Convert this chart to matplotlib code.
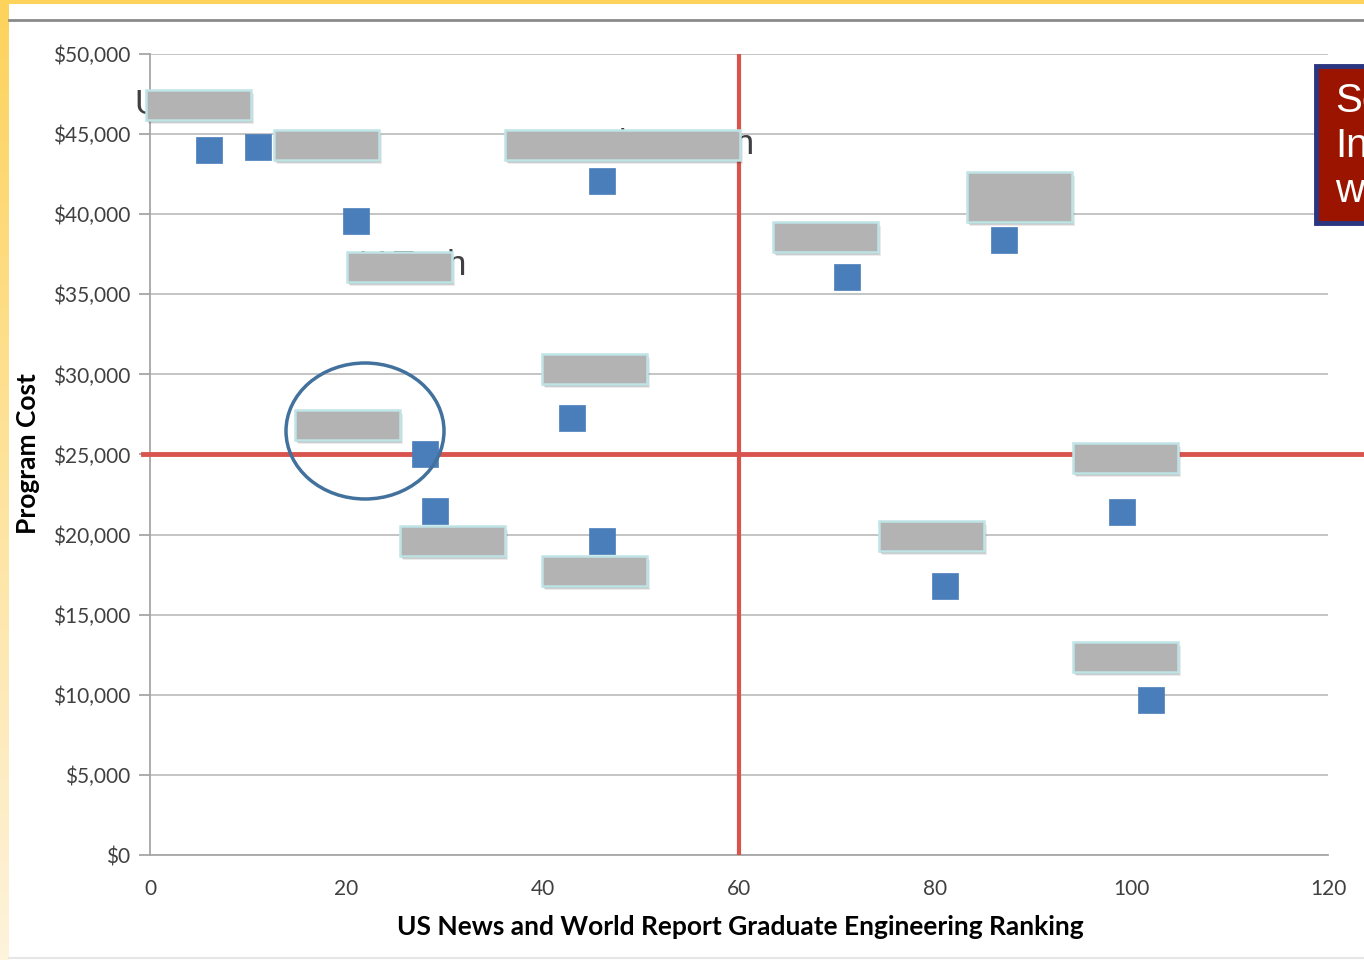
import matplotlib
matplotlib.use("Agg")
import matplotlib.pyplot as plt
import numpy as np
from matplotlib.patches import Rectangle, Ellipse
from matplotlib.colors import LinearSegmentedColormap

# ---- data ----
ranking = [6, 11, 21, 46, 71, 87, 43, 28, 29, 46, 81, 99, 102]
cost = [44000, 44200, 39600, 42100, 36100, 38400, 27300, 25000, 21500, 19600, 16800, 21400, 9700]
x_ticks = [0, 20, 40, 60, 80, 100, 120]
y_ticks = [0, 5000, 10000, 15000, 20000, 25000, 30000, 35000, 40000, 45000, 50000]
y_tick_labels = ["$0", "$5,000", "$10,000", "$15,000", "$20,000", "$25,000",
                 "$30,000", "$35,000", "$40,000", "$45,000", "$50,000"]
rank_cut = 60
cost_cut = 25000
x_title = "US News and World Report Graduate Engineering Ranking"
y_title = "Program Cost"
callout_lines = ["Se", "In", "w"]

W, H = 1364, 960
fig = plt.figure(figsize=(W / 100, H / 100), dpi=100)
fig.patch.set_facecolor("white")

def fx(px):
    return px / W

def fy(py):
    return 1 - py / H

# background frame: yellow gradient strips
grad = np.linspace(0, 1, 256).reshape(-1, 1)
ycmap = LinearSegmentedColormap.from_list("y", ["#fdd35c", "#fef3dc"])
axbg = fig.add_axes([0, 0, fx(9), 1], zorder=0)
axbg.imshow(grad, aspect="auto", cmap=ycmap, extent=[0, 1, 0, 1], origin="upper")
axbg.axis("off")
fig.add_artist(Rectangle((0, fy(4)), 1, fy(0) - fy(4), transform=fig.transFigure,
                         facecolor="#fdd35c", edgecolor="none", zorder=1))
fig.add_artist(plt.Line2D([fx(9), 1], [fy(20), fy(20)], transform=fig.transFigure,
                          color="#8a8a8a", lw=2, zorder=1))
fig.add_artist(plt.Line2D([fx(9), 1], [fy(958), fy(958)], transform=fig.transFigure,
                          color="#e6e6e6", lw=1.5, zorder=1))

# ---- main axes ----
ax = fig.add_axes([fx(150), fy(855), fx(1328) - fx(150), fy(54) - fy(855)], zorder=2)
ax.set_facecolor("none")
ax.set_xlim(0, 120)
ax.set_ylim(0, 50000)
ax.set_xticks(x_ticks)
ax.set_yticks(y_ticks)
ax.set_yticklabels(y_tick_labels)
for s in ["top", "right"]:
    ax.spines[s].set_visible(False)
for s in ["left", "bottom"]:
    ax.spines[s].set_color("#a6a6a6")
    ax.spines[s].set_linewidth(1.3)
ax.grid(axis="y", color="#bfbfbf", lw=1.3)
ax.set_axisbelow(True)
ax.tick_params(axis="y", length=8, color="#a6a6a6", width=1.3, pad=6,
               labelsize=15, labelcolor="#404040")
ax.tick_params(axis="x", length=0, pad=17, labelsize=15, labelcolor="#404040")
for lab in ax.get_xticklabels() + ax.get_yticklabels():
    lab.set_family("Lato")

ax.scatter(ranking, cost, marker="s", s=330, color="#4a7ebb", edgecolor="#4a7ebb",
           linewidth=0.5, zorder=4)

ax.axvline(rank_cut, color="#d9544f", lw=3, zorder=3, ymin=0, ymax=1.0)
ax.plot([-0.7, 124], [cost_cut, cost_cut], color="#d9544f", lw=3.5, zorder=3,
        clip_on=False)

fig.text(fx(740), fy(927), x_title, family="Lato", fontsize=19, fontweight="bold",
         color="#000000", ha="center", va="center")
fig.text(fx(28), fy(454), y_title, family="Lato", fontsize=19, fontweight="bold",
         color="#000000", ha="center", va="center", rotation=90)

# ---- partially hidden point labels (redacted) ----
hidden = [
    ("U", 134, 105, "#404040", "left"),
    ("USC", 349, 150, "#00b050", "right"),
    ("Northeastern", 754, 144, "#404040", "right"),
    ("V Tech", 466, 265, "#404040", "right"),
]
for t, px, py, c, ha in hidden:
    fig.text(fx(px), fy(py), t, color=c, fontsize=25, family="Liberation Sans",
             ha=ha, va="center", zorder=5)

# redaction boxes (pixel extents)
boxes = [
    (146, 90, 251, 120), (274, 130, 379, 160), (505, 130, 740, 160),
    (347, 252, 452, 282), (773, 222, 878, 252), (967, 172, 1072, 222),
    (542, 354, 647, 384), (295, 410, 400, 440), (400, 526, 505, 556),
    (542, 556, 647, 586), (879, 521, 984, 551), (1073, 443, 1178, 473),
    (1073, 642, 1178, 672),
]
for x0, y0, x1, y1 in boxes:
    for k, a in [(4, 0.08), (3, 0.12), (2, 0.16)]:
        fig.add_artist(Rectangle((fx(x0 + k - 1), fy(y1 + k)), fx(x1 - x0), fy(y0) - fy(y1),
                                 transform=fig.transFigure, facecolor="#000000",
                                 edgecolor="none", alpha=a, zorder=6))
    fig.add_artist(Rectangle((fx(x0), fy(y1)), fx(x1 - x0), fy(y0) - fy(y1),
                             transform=fig.transFigure, facecolor="#b3b3b3",
                             edgecolor="#bfe4e6", lw=1.8, zorder=7))

# highlight ellipse
fig.add_artist(Ellipse((fx(365), fy(431)), fx(158), fy(0) - fy(136),
                       transform=fig.transFigure, facecolor="none",
                       edgecolor="#41719c", lw=2.5, zorder=8))

# callout box at right (cut by the image edge, as in the source slide)
fig.add_artist(Rectangle((fx(1316), fy(223)), fx(80), fy(66) - fy(223),
                         transform=fig.transFigure, facecolor="#9b1400",
                         edgecolor="#2b3580", lw=3.5, zorder=8, clip_on=False))
for i, t in enumerate(callout_lines):
    fig.text(fx(1335), fy(101 + 45 * i), t, color="white", fontsize=29,
             family="Liberation Sans", ha="left", va="center", zorder=9)

fig.savefig("out.png", dpi=100)
